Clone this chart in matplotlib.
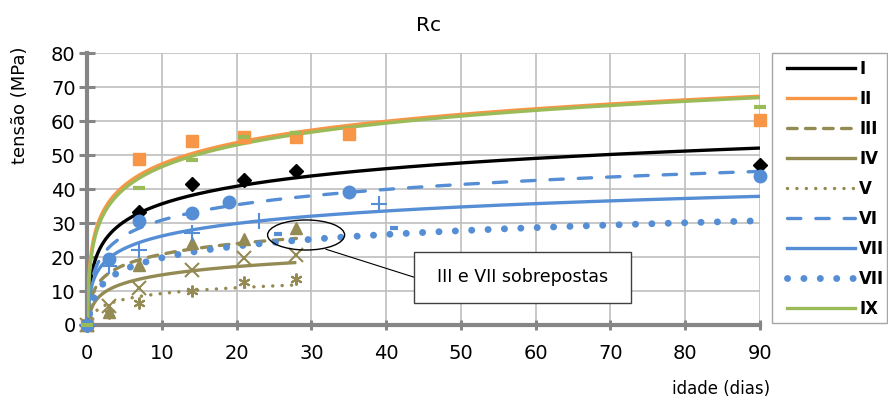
import matplotlib
matplotlib.use('Agg')
import matplotlib.pyplot as plt
import numpy as np
from matplotlib.lines import Line2D
from matplotlib.patches import Ellipse, Rectangle

# ---------------- data ----------------
series_names = ['I', 'II', 'III', 'IV', 'V', 'VI', 'VII', 'VII', 'IX']

days_I = [0, 7, 14, 21, 28, 90]
rc_I = [0, 33.4, 41.6, 42.8, 45.2, 47.2]
days_II = [0, 7, 14, 21, 28, 35, 90]
rc_II = [0, 49.0, 54.1, 55.5, 55.4, 56.3, 60.3]
days_III = [0, 3, 7, 14, 21, 28]
rc_III = [0, 3.9, 17.7, 24.1, 25.4, 28.5]
days_IV = [0, 3, 7, 14, 21, 28]
rc_IV = [0, 5.5, 10.8, 16.2, 19.7, 20.6]
days_V = [0, 3, 7, 14, 21, 28]
rc_V = [0, 3.4, 6.4, 10.1, 12.8, 13.5]
days_VI = [0, 3, 7, 14, 19, 35, 90]
rc_VI = [0, 19.5, 30.7, 33.1, 36.2, 39.3, 44.0]
days_VII = [0, 3, 7, 14, 23, 39]
rc_VII = [0, 17.5, 22.1, 27.0, 30.5, 35.6]
days_VIII = [0, 25.5, 41]
rc_VIII = [0, 26.8, 28.7]
days_IX = [0, 7, 14, 21, 28, 90]
rc_IX = [0, 40.3, 48.7, 55.5, 56.5, 64.1]

# logarithmic trendlines y = slope*ln(x) + intercept
trend_slope = [7.48, 9.08, 4.53, 3.53, 2.45, 6.54, 5.32, 4.97, 9.28]
trend_intercept = [18.44, 26.5, 10.4, 6.63, 3.63, 15.8, 13.95, 8.33, 25.2]
trend_last_day = [90, 90, 28, 28, 28, 90, 90, 90, 90]

x_ticks = list(range(0, 100, 10))
y_ticks = list(range(0, 90, 10))

chart_title = 'Rc'
x_label = 'idade (dias)'
y_label = 'tensão (MPa)'
note_text = 'III e VII sobrepostas'

# ---------------- styles ----------------
BLACK = '#000000'
ORANGE = '#F79646'
OLIVE = '#948A54'
BLUE = '#558ED5'
GREEN = '#9BBB59'
GRAY = '#868686'

days = [days_I, days_II, days_III, days_IV, days_V, days_VI, days_VII, days_VIII, days_IX]
vals = [rc_I, rc_II, rc_III, rc_IV, rc_V, rc_VI, rc_VII, rc_VIII, rc_IX]
colors = [BLACK, ORANGE, OLIVE, OLIVE, OLIVE, BLUE, BLUE, BLUE, GREEN]
line_styles = [
    dict(lw=2.4, ls='-'),
    dict(lw=2.4, ls='-'),
    dict(lw=2.4, ls=(0, (2.9, 2.5)), dash_capstyle='round'),
    dict(lw=2.4, ls='-'),
    dict(lw=2.5, ls=(0, (0.01, 2.7)), dash_capstyle='round'),
    dict(lw=2.4, ls=(0, (4.0, 4.5)), dash_capstyle='round'),
    dict(lw=2.4, ls='-'),
    dict(lw=5.0, ls=(0, (0.01, 2.35)), dash_capstyle='round'),
    dict(lw=2.4, ls='-'),
]
marker_styles = [
    dict(marker='D', ms=7),
    dict(marker='s', ms=9),
    dict(marker='^', ms=8.5),
    dict(marker='x', ms=10, mew=1.5),
    dict(marker=(6, 2, 0), ms=8.5, mew=1.5),
    dict(marker='o', ms=9),
    dict(marker='+', ms=11, mew=1.5),
    dict(marker='_', ms=6, mew=3),
    dict(marker='_', ms=9, mew=3),
]

W, H = 888, 398
fig = plt.figure(figsize=(W / 100, H / 100), dpi=100)
ax = fig.add_axes([87 / W, 1 - 325 / H, (760 - 87) / W, (325 - 53.3) / H])
ax.set_xlim(0, 90)
ax.set_ylim(0, 80)
ax.set_xticks(x_ticks)
ax.set_yticks(y_ticks)
ax.grid(True, color='#BFBFBF', lw=1.2)
ax.set_axisbelow(True)
for s in ['top', 'right']:
    ax.spines[s].set_visible(False)
for s in ['left', 'bottom']:
    ax.spines[s].set_color(GRAY)
    ax.spines[s].set_linewidth(3)
ax.tick_params(axis='y', direction='inout', length=11.5, width=2.2, color=GRAY,
               pad=2.4, labelsize=14)
ax.tick_params(axis='x', direction='inout', length=7.2, width=2.2, color=GRAY,
               pad=10, labelsize=14)

# trendlines
handles = []
for i in range(len(series_names)):
    xs = np.geomspace(0.02, trend_last_day[i], 500)
    ys = trend_slope[i] * np.log(xs) + trend_intercept[i]
    ax.plot(xs, ys, color=colors[i], zorder=3, solid_capstyle='butt', **line_styles[i])
    handles.append(Line2D([], [], color=colors[i], **line_styles[i]))

# data markers
for i in range(len(series_names)):
    ax.plot(days[i], vals[i], ls='none', color=colors[i], mec=colors[i],
            zorder=4, clip_on=False, **marker_styles[i])

# annotation
ax.add_patch(Ellipse((29.3, 26.5), 10.3, 8.85, fill=False, ec='black', lw=1, zorder=6))
ax.plot([31.96, 43.7], [22.3, 14.1], color='black', lw=0.8, zorder=6)
ax.add_patch(Rectangle((43.7, 6.4), 29.1, 15.2, fc='white', ec='#404040', lw=1, zorder=7))
ax.text(58.25, 14.0, note_text, fontsize=12.5, ha='center', va='center', zorder=8)

# texts
fig.text(428 / W, 1 - 25.5 / H, chart_title, fontsize=14.5, ha='center', va='center')
fig.text(20 / W, 1 - 105 / H, y_label, fontsize=13, rotation=90, ha='center', va='center')
fig.text(770 / W, 1 - 389 / H, x_label, fontsize=12, ha='right', va='center')

# legend
fig.add_artist(Rectangle((772 / W, 1 - 323 / H), (887 - 772) / W, (323 - 53) / H,
                         transform=fig.transFigure, fill=False, ec='#A6A6A6', lw=1))
fig.legend(handles=handles, labels=series_names, loc='upper left',
           bbox_to_anchor=(786.7 / W, 1 - 59.5 / H), bbox_transform=fig.transFigure,
           frameon=False, borderpad=0, borderaxespad=0, handlelength=4.1,
           handletextpad=0.25, labelspacing=0.72, prop={'weight': 'bold', 'size': 12})

fig.savefig('out.png', dpi=100)
